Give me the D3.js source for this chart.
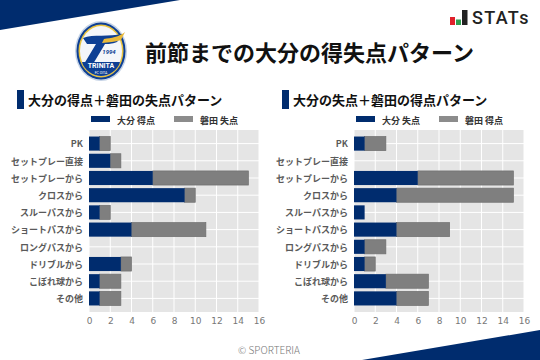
<!DOCTYPE html>
<html>
<head>
<meta charset="utf-8">
<script src="https://cdn.jsdelivr.net/npm/d3@7"></script>
<style>
html, body { margin: 0; padding: 0; background: #fff; }
svg { display: block; }
text { font-family: "Noto Sans CJK JP", "Noto Sans", sans-serif; }
</style>
</head>
<body>
<div id="chart"></div>
<script>
var categories = ["PK", "セットプレー直接", "セットプレーから", "クロスから", "スルーパスから", "ショートパスから", "ロングパスから", "ドリブルから", "こぼれ球から", "その他"];
var leftOita = [1, 2, 6, 9, 1, 4, 0, 3, 1, 1];
var leftIwata = [1, 1, 9, 1, 1, 7, 0, 1, 2, 2];
var rightOita = [1, 0, 6, 4, 1, 4, 1, 1, 3, 4];
var rightIwata = [2, 0, 9, 11, 0, 5, 2, 1, 4, 3];
var xTicks = [0, 2, 4, 6, 8, 10, 12, 14, 16];

var NAVY = "#002c6e", GREY = "#7f7f7f";
var width = 540, height = 360;

var svg = d3.select("#chart").append("svg").attr("width", width).attr("height", height);

// corner bands
svg.append("path").attr("d", "M0,0H180L0,30Z").attr("fill", NAVY);
svg.append("path").attr("d", "M540,330V360H362Z").attr("fill", NAVY);

svg.append("text").attr("x", 145).attr("y", 61).attr("font-size", 22).attr("font-weight", 700)
    .attr("fill", "#111").text("前節までの大分の得失点パターン");

svg.append("text").attr("x", 269).attr("y", 354).attr("text-anchor", "middle").attr("font-size", 10)
    .attr("font-weight", 300).attr("fill", "#777").text("© SPORTERIA");

// club badge
var badge = svg.append("g").attr("transform", "translate(101,51)");
badge.append("ellipse").attr("rx", 26).attr("ry", 30).attr("fill", "#c5d3e6");
badge.append("ellipse").attr("rx", 24.5).attr("ry", 28.5).attr("fill", "#0d3f94");
badge.append("ellipse").attr("rx", 22.5).attr("ry", 26.5).attr("fill", "#e9c33f");
badge.append("ellipse").attr("rx", 21).attr("ry", 25).attr("fill", "#f4f6fa");
badge.append("path").attr("d", "M-18,-13C-8,-17 8,-14 22,-17L16,-9C10,-7 8,-7 4,-7L-8,13H-17L-5,-7H-14Z").attr("fill", "#0d3f94");
badge.append("path").attr("d", "M3,-12C10,-13 18,-14 24,-19L20,-11C14,-9 8,-9 1,-8Z").attr("fill", "#e9b93a");
badge.append("path").attr("d", "M-19,11H19C17,19 8,25 0,25C-8,25 -17,19 -19,11Z").attr("fill", "#0d3f94");
badge.append("text").attr("y", 17).attr("text-anchor", "middle").attr("font-size", 7).attr("font-weight", 700)
    .attr("fill", "#fff").style("font-family", "Roboto, sans-serif").text("TRINITA");
badge.append("text").attr("y", 23).attr("text-anchor", "middle").attr("font-size", 3.5)
    .attr("fill", "#fff").style("font-family", "Roboto, sans-serif").text("FC OITA");
badge.append("text").attr("x", 8).attr("y", 3).attr("font-size", 6).attr("font-style", "italic").attr("font-weight", 700)
    .attr("text-anchor", "middle").attr("fill", "#0d3f94").style("font-family", "Roboto, sans-serif").text("1994");

// STATs logo
var logo = svg.append("g");
logo.append("rect").attr("x", 450).attr("y", 17).attr("width", 5).attr("height", 8).attr("fill", "#e0212b");
logo.append("rect").attr("x", 456).attr("y", 19.5).attr("width", 5).attr("height", 5.5).attr("fill", "#2e9e4f");
logo.append("rect").attr("x", 462).attr("y", 10).attr("width", 5.5).attr("height", 15).attr("fill", "#222");
logo.append("text").attr("x", 472).attr("y", 24).attr("font-size", 18).attr("font-weight", 500)
    .attr("fill", "#222").style("font-family", "Roboto, sans-serif").attr("letter-spacing", 1.3).text("STATs");

function drawPanel(opts) {
    var plotTop = 130, plotBottom = 312;
    var x = d3.scaleLinear().domain([0, 16]).range([opts.left, opts.left + 170]);
    var y = d3.scaleBand().domain(categories).range([plotTop, plotBottom]).paddingInner(0.18).paddingOuter(0.38);
    var g = svg.append("g");

    g.append("rect").attr("x", opts.titleX).attr("y", 90).attr("width", 7).attr("height", 19).attr("fill", NAVY);
    g.append("text").attr("x", opts.titleX + 11).attr("y", 105).attr("font-size", 13).attr("font-weight", 700)
        .attr("fill", "#111").text(opts.title);

    // legend
    g.append("rect").attr("x", opts.left + 2).attr("y", 116).attr("width", 19).attr("height", 6).attr("fill", NAVY);
    g.append("text").attr("x", opts.left + 28).attr("y", 123.5).attr("font-size", 9).attr("font-weight", 700)
        .attr("fill", "#333").text(opts.legend[0]);
    g.append("rect").attr("x", opts.left + 85).attr("y", 116).attr("width", 19).attr("height", 6).attr("fill", "#8c8c8c");
    g.append("text").attr("x", opts.left + 111).attr("y", 123.5).attr("font-size", 9).attr("font-weight", 700)
        .attr("fill", "#333").text(opts.legend[1]);

    g.append("rect").attr("x", opts.left).attr("y", plotTop).attr("width", 170).attr("height", plotBottom - plotTop).attr("fill", "#e5e5e5");

    g.append("g").selectAll("line").data(xTicks).join("line")
        .attr("x1", function(d) { return x(d); }).attr("x2", function(d) { return x(d); })
        .attr("y1", plotTop).attr("y2", plotBottom).attr("stroke", "#fff");
    g.append("g").selectAll("line").data(categories).join("line")
        .attr("x1", opts.left).attr("x2", opts.left + 170)
        .attr("y1", function(d) { return y(d) + y.bandwidth() / 2; })
        .attr("y2", function(d) { return y(d) + y.bandwidth() / 2; })
        .attr("stroke", "#fff");

    // grey part runs on from the navy one, only drawn where there is a value
    g.append("g").selectAll("rect").data(categories).join("rect")
        .attr("x", function(d, i) { return x(opts.oita[i]); })
        .attr("y", function(d) { return y(d); })
        .attr("width", function(d, i) { return x(opts.oita[i] + opts.iwata[i]) - x(opts.oita[i]); })
        .attr("height", y.bandwidth())
        .attr("fill", GREY)
        .attr("stroke", "#6f6f6f")
        .attr("stroke-width", function(d, i) { return opts.iwata[i] ? 0.7 : 0; });
    g.append("g").selectAll("rect").data(categories).join("rect")
        .attr("x", x(0))
        .attr("y", function(d) { return y(d); })
        .attr("width", function(d, i) { return x(opts.oita[i]) - x(0); })
        .attr("height", y.bandwidth())
        .attr("fill", NAVY);

    var xAxis = g.append("g").attr("transform", "translate(0," + plotBottom + ")")
        .call(d3.axisBottom(x).tickValues(xTicks).tickSize(0).tickPadding(6));
    xAxis.select(".domain").remove();
    xAxis.selectAll("text").attr("font-size", 9).attr("fill", "#777").style("font-family", "'DejaVu Sans', sans-serif");

    var yAxis = g.append("g").attr("transform", "translate(" + opts.left + ",0)")
        .call(d3.axisLeft(y).tickSize(0).tickPadding(6));
    yAxis.select(".domain").remove();
    yAxis.selectAll("text").attr("font-size", 9).attr("font-weight", 700).attr("fill", "#5a5a5a").attr("dy", "0.42em");
}

drawPanel({ left: 89, titleX: 17, title: "大分の得点＋磐田の失点パターン", legend: ["大分 得点", "磐田 失点"], oita: leftOita, iwata: leftIwata });
drawPanel({ left: 354, titleX: 282, title: "大分の失点＋磐田の得点パターン", legend: ["大分 失点", "磐田 得点"], oita: rightOita, iwata: rightIwata });
</script>
</body>
</html>
